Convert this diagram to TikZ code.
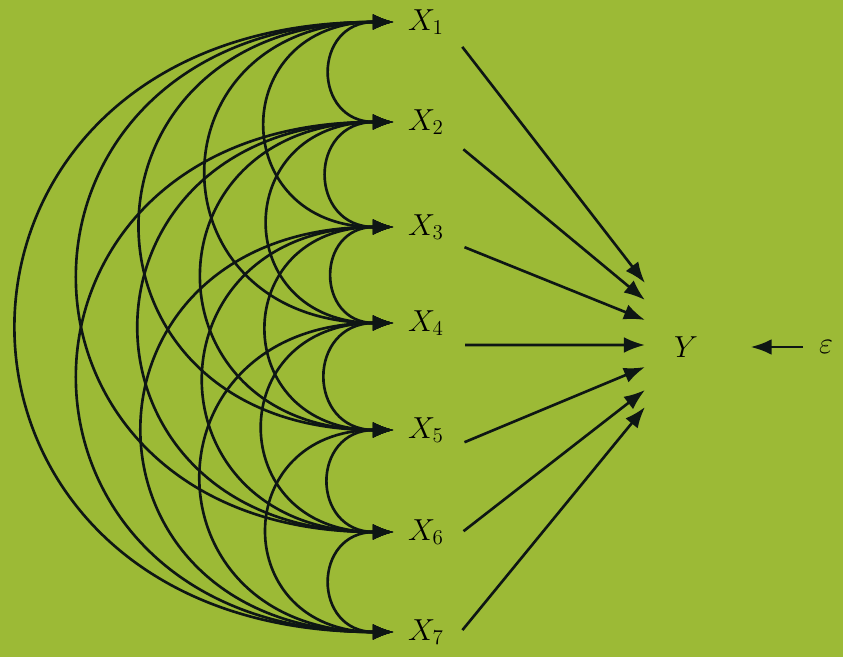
\documentclass[tikz,border=0pt]{standalone}
\usetikzlibrary{arrows.meta}
\definecolor{bggreen}{RGB}{156,186,54}
\definecolor{inkline}{RGB}{14,22,20}

\begin{document}
\begin{tikzpicture}[x=0.02cm,y=0.02cm,>={Latex[length=12pt,width=9pt]},line width=1.5pt,
        var/.style={inner sep=2pt,outer sep=6pt,font=\fontsize{17}{20}\selectfont}]
        \fill[bggreen] (0,0) rectangle (843,657);
        \useasboundingbox (0,0) rectangle (843,657);
        % predictors
        \foreach \i/\y in {1/635,2/535,3/430,4/334,5/227,6/125,7/25}
            \node[var,anchor=west] (x\i) at (394,\y) {$X_{\i}$};
        \node[var] (Y) at (686,310) {$Y$};
        \node[var,outer sep=7pt] (eps) at (826,310) {$\varepsilon$};
        % correlations between the X's
        \foreach \i [evaluate=\i as \k using int(\i+1)] in {1,...,6}
            \foreach \j in {\k,...,7}
                \draw[<->,inkline] (x\i.west) to[out=180,in=180,looseness=2.1] (x\j.west);
        % effects on Y
        \foreach \i/\s/\d in {1/-11/64,2/-13/47,3/-10/27,4/-12.5/2,5/-8.5/-20,6/-2/-43,7/-2/-60} {
            \path (Y.center) ++(-41,\d) coordinate (t\i);
            \draw[->,inkline,shorten <=4pt] ([yshift=\s pt]x\i.east) -- (t\i);
        }
        \draw[->,inkline,shorten >=22pt] (eps) -- (Y);
    \end{tikzpicture}
\end{document}
